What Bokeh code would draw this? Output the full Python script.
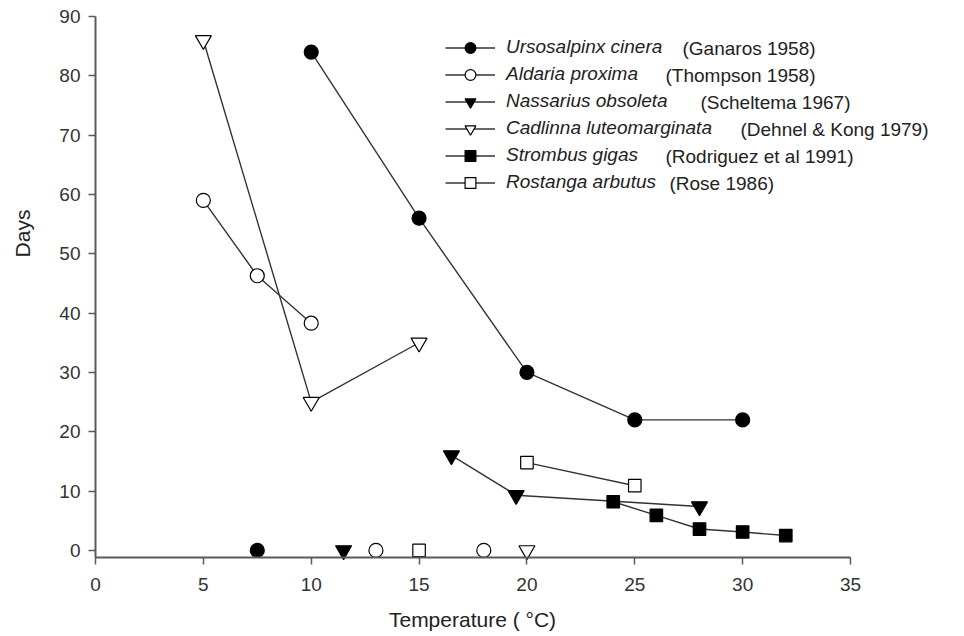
import math
from bokeh.plotting import figure
from bokeh.models import Range1d, Legend, LegendItem, Label, FixedTicker
from bokeh.embed import file_html
from bokeh.resources import INLINE

# ---------------- data ----------------
urso_x = [10, 15, 20, 25, 30]
urso_y = [84, 56, 30, 22, 22]
urso_iso_x = [7.5]
urso_iso_y = [0]

ald_x = [5, 7.5, 10]
ald_y = [59, 46.3, 38.3]
ald_iso_x = [13, 18]
ald_iso_y = [0, 0]

nass_x = [16.5, 19.5, 28]
nass_y = [16, 9.3, 7.4]
nass_iso_x = [11.5]
nass_iso_y = [0]

cad_x = [5, 10, 15]
cad_y = [86, 25, 35]
cad_iso_x = [20]
cad_iso_y = [0]

strom_x = [24, 26, 28, 30, 32]
strom_y = [8.2, 5.9, 3.6, 3.1, 2.5]

rost_x = [20, 25]
rost_y = [14.8, 10.9]
rost_iso_x = [15]
rost_iso_y = [0]

species = ["Ursosalpinx cinera", "Aldaria proxima", "Nassarius obsoleta",
           "Cadlinna luteomarginata", "Strombus gigas", "Rostanga arbutus"]
citations = ["(Ganaros 1958)", "(Thompson 1958)", "(Scheltema 1967)",
             "(Dehnel & Kong 1979)", "(Rodriguez et al 1991)", "(Rose 1986)"]

x_ticks = [0, 5, 10, 15, 20, 25, 30, 35]
y_ticks = [0, 10, 20, 30, 40, 50, 60, 70, 80, 90]

x_title = "Temperature ( \u00b0C)"
y_title = "Days"

# ---------------- layout ----------------
W, H = 964, 636
AX_L, AX_R, AX_T, AX_B = 95, 850, 16, 557   # pixel box of the axes
XA0, XA1, YA0, YA1 = 0, 35, -1.2, 90         # axis extents in data units
ppx = (AX_R - AX_L) / (XA1 - XA0)
ppy = (AX_B - AX_T) / (YA1 - YA0)

# frame covers the whole canvas; axes are pinned at fixed data locations
x_range = Range1d(XA0 - AX_L / ppx, XA1 + (W - AX_R) / ppx)
y_range = Range1d(YA0 - (H - AX_B) / ppy, YA1 + AX_T / ppy)


def px_to_x(px):
    return XA0 + (px - AX_L) / ppx


def py_to_y(py):
    return YA0 + (AX_B - py) / ppy


p = figure(width=W, height=H, output_backend="svg", toolbar_location=None,
           x_range=x_range, y_range=y_range,
           min_border_left=0, min_border_right=0,
           min_border_top=0, min_border_bottom=0)
p.outline_line_color = None
p.grid.visible = False
p.background_fill_color = "white"
p.border_fill_color = "white"

FONT = "Liberation Sans"
AX_COL = "#5a5a5a"
TXT_COL = "#333333"
LINE_COL = "#333333"

for ax in (p.xaxis[0], p.yaxis[0]):
    ax.axis_line_color = AX_COL
    ax.axis_line_width = 2
    ax.major_tick_line_color = AX_COL
    ax.major_tick_line_width = 1.5
    ax.major_tick_out = 7
    ax.major_tick_in = 0
    ax.minor_tick_line_color = None
    ax.major_label_text_font = FONT
    ax.major_label_text_font_size = "19px"
    ax.major_label_text_color = TXT_COL

p.xaxis[0].ticker = FixedTicker(ticks=x_ticks)
p.yaxis[0].ticker = FixedTicker(ticks=y_ticks)
p.xaxis[0].bounds = (XA0, XA1)
p.yaxis[0].bounds = (YA0, YA1)
p.xaxis[0].fixed_location = YA0
p.yaxis[0].fixed_location = XA0
p.xaxis[0].major_label_standoff = 13
p.yaxis[0].major_label_standoff = 8

p.add_layout(Label(x=px_to_x(472), y=py_to_y(619), text=x_title,
                   text_align="center", text_baseline="middle",
                   text_font=FONT, text_font_size="21px", text_color="#222222"))
p.add_layout(Label(x=px_to_x(22), y=py_to_y(233), text=y_title,
                   angle=math.pi / 2,
                   text_align="center", text_baseline="middle",
                   text_font=FONT, text_font_size="21px", text_color="#222222"))

# ---------------- series ----------------
MS_C = 14
MS_T = 16
MS_S = 12.5

series = [
    (urso_x, urso_y, urso_iso_x, urso_iso_y, "circle", "black", MS_C),
    (ald_x, ald_y, ald_iso_x, ald_iso_y, "circle", "white", MS_C),
    (nass_x, nass_y, nass_iso_x, nass_iso_y, "inverted_triangle", "black", MS_T),
    (cad_x, cad_y, cad_iso_x, cad_iso_y, "inverted_triangle", "white", MS_T),
    (strom_x, strom_y, [], [], "square", "black", MS_S),
    (rost_x, rost_y, rost_iso_x, rost_iso_y, "square", "white", MS_S),
]

items = []
for i, (xs, ys, ix, iy, mk, fill, sz) in enumerate(series):
    lr = p.line(xs, ys, line_color=LINE_COL, line_width=1.4)
    sr = p.scatter(xs + ix, ys + iy, marker=mk, size=sz, fill_color=fill,
                   line_color="black", line_width=1.2)
    items.append(LegendItem(label=species[i], renderers=[lr, sr]))

ROW_H = 27
legend = Legend(items=items, location=(445, H - (182 + ROW_H / 2)),
                orientation="vertical", padding=0, margin=0, spacing=0,
                border_line_color=None, background_fill_alpha=0,
                glyph_width=50, glyph_height=ROW_H, label_height=ROW_H,
                label_standoff=11, label_text_font=FONT,
                label_text_font_size="19px", label_text_font_style="italic",
                label_text_color="#222222")
p.add_layout(legend, "center")

cit_px = [682, 665, 700, 740, 665, 669]
row_py = [48, 75, 102, 129, 156, 183]
for c, cx, cy in zip(citations, cit_px, row_py):
    p.add_layout(Label(x=px_to_x(cx), y=py_to_y(cy), text=c,
                       text_align="left", text_baseline="middle",
                       text_font=FONT, text_font_size="19px",
                       text_color="#222222"))

open("out.html", "w").write(file_html(p, INLINE))
